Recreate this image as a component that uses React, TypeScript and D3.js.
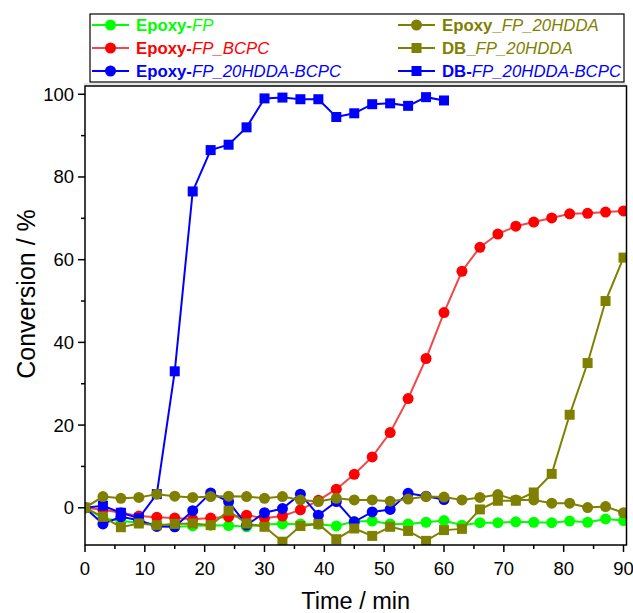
import React from "react";
import * as d3 from "d3";

const times = d3.range(0, 91, 3);

const epoxyFP = [0, -2.5, -3.2, -3.6, -4.0, -4.6, -4.4, -4.2, -4.3, -4.6, -4.0, -3.9, -3.9, -4.0, -4.4, -3.3, -3.2, -3.9, -3.9, -3.5, -3.1, -4.2, -3.6, -3.6, -3.4, -3.5, -3.6, -3.2, -3.5, -2.7, -3.1];
const epoxyFPBCPC = [0, -0.5, -1.2, -2.0, -2.3, -2.5, -2.8, -2.5, -2.2, -1.8, -2.5, -2.0, -0.5, 1.8, 4.5, 8.1, 12.3, 18.2, 26.4, 36.1, 47.2, 57.2, 63.0, 66.2, 68.1, 69.1, 70.1, 71.1, 71.2, 71.5, 71.8];
const epoxyFP20HDDABCPC = [0, -3.9, -2.2, -3.0, -4.5, -4.6, -0.7, 3.6, 1.5, -4.2, -1.2, -0.2, 3.3, -1.8, 1.5, -3.4, -1.0, -0.4, 3.5, 2.8, 2.0];
const epoxyFP20HDDA = [0, 2.7, 2.3, 2.5, 3.3, 2.8, 2.5, 2.7, 2.8, 2.7, 2.3, 2.7, 1.9, 1.5, 2.3, 1.9, 1.9, 1.6, 2.1, 2.7, 2.6, 1.9, 2.5, 3.2, 1.9, 1.9, 1.1, 1.1, 0.05, 0.3, -1.2];
const dbFP20HDDA = [0, -2.2, -4.7, -3.8, -4.2, -3.9, -3.8, -4.2, -0.7, -3.8, -4.6, -8.2, -4.4, -3.9, -7.6, -5.0, -6.8, -4.6, -5.6, -8.0, -5.4, -5.1, -0.4, 1.7, 1.7, 3.7, 8.2, 22.5, 35.0, 50.0, 60.5];
const dbFP20HDDABCPC = [0, 0.5, -1.2, -2.5, 3.3, 33.0, 76.5, 86.5, 87.8, 92.0, 99.0, 99.2, 98.8, 98.8, 94.5, 95.4, 97.6, 97.8, 97.2, 99.3, 98.5];

const xMajor = d3.range(0, 91, 10);
const xMinor = d3.range(5, 90, 10);
const yMajor = d3.range(0, 101, 20);
const yMinor = d3.range(10, 100, 20);

type Series = {
  values: number[];
  color: string;
  lineColor: string;
  marker: "circle" | "square";
  bold: string;
  italic: string;
};

const GREEN = "#00ff00";
const RED = "#ff0000";
const BLUE = "#0000ff";
const OLIVE = "#808000";

const series: Series[] = [
  { values: epoxyFP, color: GREEN, lineColor: GREEN, marker: "circle", bold: "Epoxy-", italic: "FP" },
  { values: epoxyFPBCPC, color: RED, lineColor: "#f04848", marker: "circle", bold: "Epoxy-", italic: "FP_BCPC" },
  { values: epoxyFP20HDDABCPC, color: BLUE, lineColor: BLUE, marker: "circle", bold: "Epoxy-", italic: "FP_20HDDA-BCPC" },
  { values: dbFP20HDDABCPC, color: BLUE, lineColor: BLUE, marker: "square", bold: "DB-", italic: "FP_20HDDA-BCPC" },
  { values: dbFP20HDDA, color: OLIVE, lineColor: OLIVE, marker: "square", bold: "DB_", italic: "FP_20HDDA" },
  { values: epoxyFP20HDDA, color: OLIVE, lineColor: OLIVE, marker: "circle", bold: "Epoxy_", italic: "FP_20HDDA" },
];

const legendOrder = [
  [series[0], series[1], series[2]],
  [series[5], series[4], series[3]],
];

const W = 633;
const H = 613;
const L = 85, R = 626.5, T = 86, B = 545;
const FONT = "'Liberation Sans', Arial, Helvetica, sans-serif";

function Marker({ x, y, s }: { x: number; y: number; s: Series }) {
  if (s.marker === "circle") return <circle cx={x} cy={y} r={5.5} fill={s.color} />;
  return <rect x={x - 5} y={y - 5} width={10} height={10} fill={s.color} />;
}

export default function App() {
  const x = d3.scaleLinear().domain([0, 90.5]).range([L, R]);
  const y = d3.scaleLinear().domain([-9, 102]).range([B, T]);
  const line = d3
    .line<[number, number]>()
    .x((d) => x(d[0]))
    .y((d) => y(d[1]));

  return (
    <svg width={W} height={H} style={{ position: "absolute", left: 0, top: 0, background: "#fff" }} fontFamily={FONT}>
      <rect width={W} height={H} fill="#fff" />
      <defs>
        <clipPath id="plot">
          <rect x={L} y={T} width={R - L} height={B - T} />
        </clipPath>
      </defs>
      <g clipPath="url(#plot)">
        {series.map((s, i) => {
          const pts: [number, number][] = s.values.map((v, j) => [times[j], v]);
          return (
            <g key={i}>
              <path d={line(pts) || ""} fill="none" stroke={s.lineColor} strokeWidth={2} />
              {pts.map((p, j) => (
                <Marker key={j} x={x(p[0])} y={y(p[1])} s={s} />
              ))}
            </g>
          );
        })}
      </g>
      <rect x={L} y={T} width={R - L} height={B - T} fill="none" stroke="#000" strokeWidth={1.5} />
      {xMajor.map((t) => (
        <g key={"xm" + t}>
          <line x1={x(t)} x2={x(t)} y1={B} y2={B + 7} stroke="#000" strokeWidth={1.5} />
          <text x={x(t)} y={B + 30} textAnchor="middle" fontSize={18.5}>{t}</text>
        </g>
      ))}
      {xMinor.map((t) => (
        <line key={"xn" + t} x1={x(t)} x2={x(t)} y1={B} y2={B + 4} stroke="#000" strokeWidth={1.5} />
      ))}
      {yMajor.map((t) => (
        <g key={"ym" + t}>
          <line x1={L - 7} x2={L} y1={y(t)} y2={y(t)} stroke="#000" strokeWidth={1.5} />
          <text x={L - 11} y={y(t) + 6.5} textAnchor="end" fontSize={18.5}>{t}</text>
        </g>
      ))}
      {yMinor.map((t) => (
        <line key={"yn" + t} x1={L - 4} x2={L} y1={y(t)} y2={y(t)} stroke="#000" strokeWidth={1.5} />
      ))}
      <text x={(L + R) / 2} y={609} textAnchor="middle" fontSize={23.5}>Time / min</text>
      <text transform={`translate(35, 294) rotate(-90)`} textAnchor="middle" fontSize={25}>Conversion / %</text>
      <line x1={84} x2={626} y1={84} y2={84} stroke="#ccc" strokeWidth={1} />
      <rect x={90} y={14} width={534} height={68} fill="#fff" stroke="#000" strokeWidth={1.2} />
      {legendOrder.map((col, ci) =>
        col.map((s, ri) => {
          const lx = ci === 0 ? 92 : 398;
          const ly = 25 + ri * 23;
          return (
            <g key={ci + "-" + ri}>
              <line x1={lx} x2={lx + 37} y1={ly} y2={ly} stroke={s.lineColor} strokeWidth={2} />
              <Marker x={lx + 18.5} y={ly} s={s} />
              <text x={lx + 44} y={ly + 6} fontSize={16.8} fill={s.color}>
                <tspan fontWeight="bold">{s.bold}</tspan>
                <tspan fontStyle="italic">{s.italic}</tspan>
              </text>
            </g>
          );
        })
      )}
    </svg>
  );
}
